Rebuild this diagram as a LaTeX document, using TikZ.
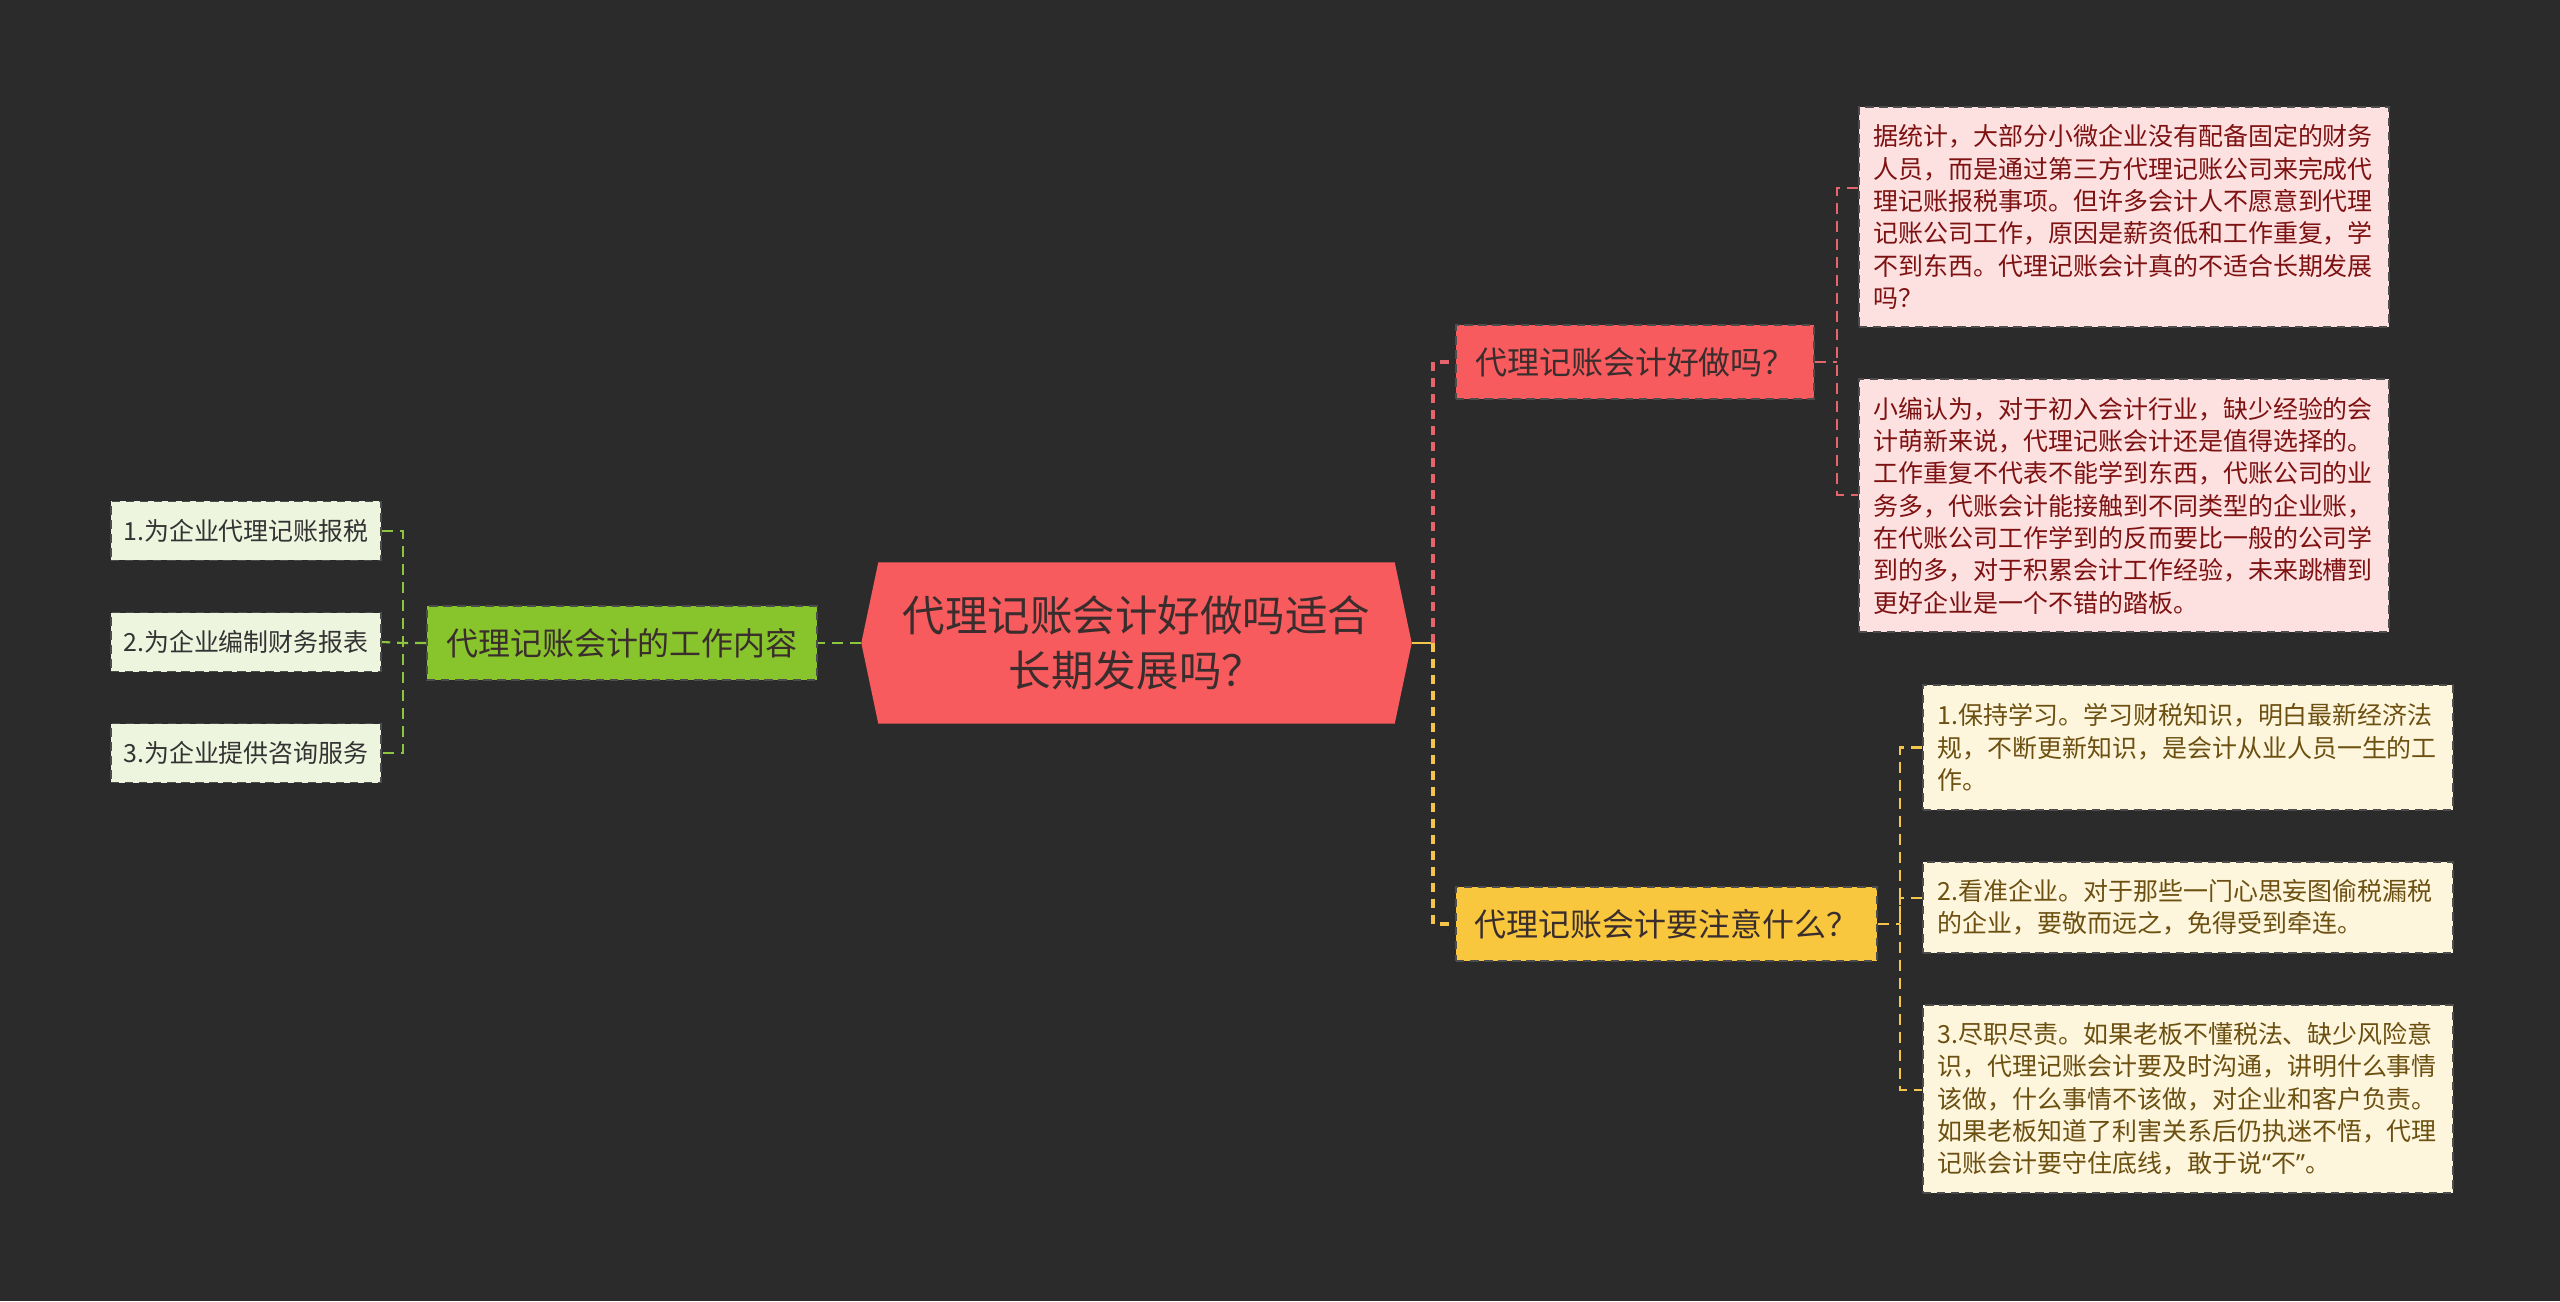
\documentclass[tikz,border=0pt]{standalone}
\usepackage{fontspec}
\setmainfont{Noto Sans CJK SC}
\newfontfamily\latinq{Noto Sans}
\usepackage{tikz}
\usetikzlibrary{calc}
\definecolor{bgdark}{HTML}{2B2B2B}
\definecolor{rootred}{HTML}{F85B5D}
\definecolor{inkdark}{HTML}{3A2D2D}
\definecolor{pinkleaf}{HTML}{FDE1E1}
\definecolor{pinkink}{HTML}{7E1111}
\definecolor{sunyellow}{HTML}{F9C73D}
\definecolor{creamleaf}{HTML}{FEF6DC}
\definecolor{creamink}{HTML}{6C5012}
\definecolor{limegreen}{HTML}{88C42B}
\definecolor{mintleaf}{HTML}{EEF5DF}
\definecolor{lineRed}{HTML}{E4656B}
\definecolor{lineYellow}{HTML}{F3C64B}
\definecolor{lineGreen}{HTML}{8CC63F}

\begin{document}
\begin{tikzpicture}[
  box/.style={draw=black!70, line width=0.45pt, dash pattern=on 2.4pt off 1.6pt, inner sep=0pt},
  topic/.style={box, minimum height=0.74cm, font=\fontsize{9.1pt}{11pt}\selectfont, text=inkdark},
  note/.style={box, text width=5cm, inner xsep=0.15cm, align=left, font=\fontsize{7.1pt}{9.2pt}\selectfont},
  bit/.style={box, fill=mintleaf, minimum height=0.59cm, inner xsep=0.125cm, font=\fontsize{7.1pt}{9pt}\selectfont, text=black!80},
  link/.style={line width=0.6pt, dash pattern=on 1.1mm off 0.7mm},
  trunk/.style={line width=1.1pt, dash pattern=on 0.9mm off 0.7mm}
]
  \fill[bgdark] (0,0) rectangle (25.6,13.01);
  \useasboundingbox (0,0) rectangle (25.6,13.01);

  % centre
  \node[minimum width=5.49cm, minimum height=1.6cm] (root) at (11.365,6.58) {};
  \fill[rootred] (root.west) -- ($(root.north west)+(0.17,0)$) -- ($(root.north east)+(-0.17,0)$)
    -- (root.east) -- ($(root.south east)+(-0.17,0)$) -- ($(root.south west)+(0.17,0)$) -- cycle;
  \node[align=center, text=inkdark, font=\fontsize{12.1pt}{15.6pt}\selectfont] (roottxt) at (root) {代理记账会计好做吗适合\\长期发展吗？};

  % left branch
  \node[topic, fill=limegreen, minimum width=3.9cm] (work) at (6.22,6.58) {代理记账会计的工作内容};
  \foreach \n/\y/\lbl in {w1/7.70/{1.为企业代理记账报税}, w2/6.59/{2.为企业编制财务报表}, w3/5.48/{3.为企业提供咨询服务}}
    \node[bit, anchor=east] (\n) at (3.82,\y) {\lbl};
  \coordinate (wb) at (4.03,6.58);
  \draw[link, lineGreen] (root.west) -- (work.east);
  \draw[link, lineGreen] (work.west) -- (wb) -- (w2.east);
  \draw[link, lineGreen] (w1.east) -| (wb) |- (w3.east);

  % right branches
  \coordinate (rj) at (14.33,6.58);
  \node[topic, fill=rootred, minimum width=3.58cm] (good) at (16.35,9.39) {代理记账会计好做吗？};
  \node[topic, fill=sunyellow, minimum width=4.21cm] (mind) at (16.665,3.77) {代理记账会计要注意什么？};
  \draw[lineYellow, line width=0.7pt] (root.east) -- (rj);
  \draw[trunk, lineRed] (rj) |- (good.west);
  \draw[trunk, lineYellow] (rj) |- (mind.west);

  \node[note, fill=pinkleaf, text=pinkink, minimum height=2.2cm, anchor=west] (why) at (18.58,10.84)
    {据统计，大部分小微企业没有配备固定的财务\\人员，而是通过第三方代理记账公司来完成代\\理记账报税事项。但许多会计人不愿意到代理\\记账公司工作，原因是薪资低和工作重复，学\\不到东西。代理记账会计真的不适合长期发展\\吗？};
  \node[note, fill=pinkleaf, text=pinkink, minimum height=2.53cm, anchor=west] (view) at (18.58,7.955)
    {小编认为，对于初入会计行业，缺少经验的会\\计萌新来说，代理记账会计还是值得选择的。\\工作重复不代表不能学到东西，代账公司的业\\务多，代账会计能接触到不同类型的企业账，\\在代账公司工作学到的反而要比一般的公司学\\到的多，对于积累会计工作经验，未来跳槽到\\更好企业是一个不错的踏板。};
  \coordinate (gb) at (18.37,9.39);
  \draw[link, lineRed] (good.east) -- (gb);
  \draw[link, lineRed] ([yshift=0.29cm]why.west) -| (gb) |- ([yshift=0.105cm]view.west);

  \node[note, fill=creamleaf, text=creamink, minimum height=1.25cm, anchor=west] (tip1) at (19.22,5.535)
    {1.保持学习。学习财税知识，明白最新经济法\\规，不断更新知识，是会计从业人员一生的工\\作。};
  \node[note, fill=creamleaf, text=creamink, minimum height=0.91cm, anchor=west] (tip2) at (19.22,3.935)
    {2.看准企业。对于那些一门心思妄图偷税漏税\\的企业，要敬而远之，免得受到牵连。};
  \node[note, fill=creamleaf, text=creamink, minimum height=1.88cm, anchor=west] (tip3) at (19.22,2.02)
    {3.尽职尽责。如果老板不懂税法、缺少风险意\\识，代理记账会计要及时沟通，讲明什么事情\\该做，什么事情不该做，对企业和客户负责。\\如果老板知道了利害关系后仍执迷不悟，代理\\记账会计要守住底线，敢于说{\latinq “}不{\latinq ”}。};
  \coordinate (mb) at (19.00,3.77);
  \draw[link, lineYellow] (mind.east) -- (mb);
  \draw[link, lineYellow] (tip1.west) -| (mb) |- ([yshift=0.09cm]tip3.west);
  \draw[link, lineYellow] ([yshift=0.095cm]tip2.west) -| (mb);
\end{tikzpicture}
\end{document}
